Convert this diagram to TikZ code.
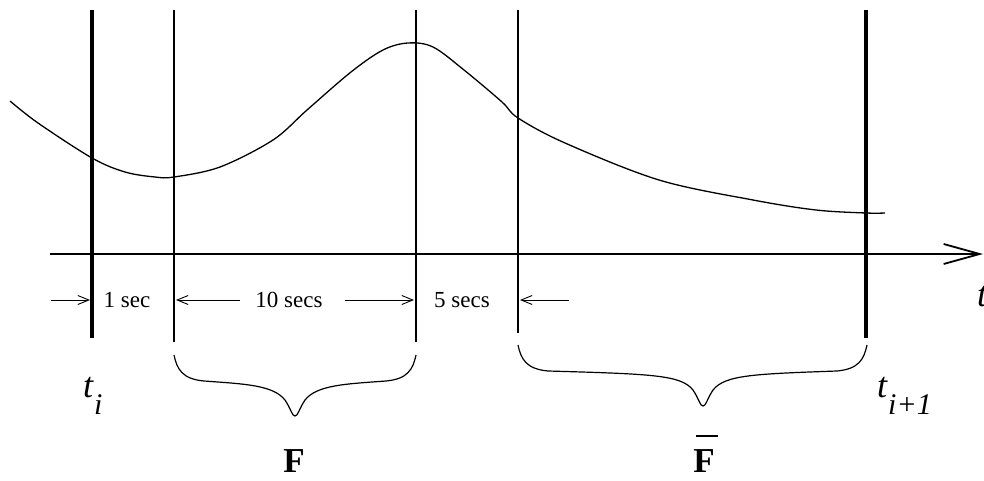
\documentclass[tikz,border=0pt]{standalone}
\usepackage{fontspec}
\setmainfont{Liberation Serif}
\usetikzlibrary{arrows.meta}
\tikzset{
  pics/cbrace/.style 2 args={code={
    \draw[line width=1.2pt] (-#1,0) .. controls ({-#1+3},14) and ({-#1+8},24) .. ({-#1+30},26)
      .. controls (-50,29) and (-22,30) .. (-10,45)
      .. controls (-4,54) and (-3,61) .. (0,61)
      .. controls (3,61) and (4,54) .. (10,45)
      .. controls (22,30) and (50,29) .. ({#2-30},26)
      .. controls ({#2-8},24) and ({#2-3},14) .. (#2,0);
  }}
}
\begin{document}
\begin{tikzpicture}[x=1pt,y=-1pt,
  thickbar/.style={line width=3.6pt},
  thinbar/.style={line width=1.1pt},
  curve/.style={line width=1.3pt},
  axisline/.style={line width=1.8pt,-{Straight Barb[length=36pt,width=20pt]}},
  dimarrow/.style={line width=0.9pt,-{Straight Barb[length=11pt,width=9pt]}},
  dimtext/.style={font=\fontsize{23}{23}\selectfont, inner sep=0pt, anchor=base},
  tlabel/.style={font=\fontsize{36}{36}\selectfont\itshape, inner sep=0pt, anchor=base west},
  sublabel/.style={font=\fontsize{30}{30}\selectfont\itshape, inner sep=0pt, anchor=base west},
  flabel/.style={font=\fontsize{35}{35}\selectfont\bfseries, inner sep=0pt, anchor=base}
]
\useasboundingbox (0,0) rectangle (984,481);

% vertical lines
\coordinate (v1t) at (92,10);  \coordinate (v1b) at (92,338);
\coordinate (v2t) at (174,10); \coordinate (v2b) at (174,342);
\coordinate (v3t) at (416,10); \coordinate (v3b) at (416,342);
\coordinate (v4t) at (518,10); \coordinate (v4b) at (518,333);
\coordinate (v5t) at (866,10); \coordinate (v5b) at (866,338);
\draw[thickbar] (v1t) -- (v1b);
\draw[thickbar] (v5t) -- (v5b);
\draw[thinbar] (v2t) -- (v2b);
\draw[thinbar] (v3t) -- (v3b);
\draw[thinbar] (v4t) -- (v4b);

% axis
\coordinate (ax0) at (50,254);
\coordinate (ax1) at (983,254);
\draw[axisline] (ax0) -- (ax1);
\node[tlabel] (tt) at (977,306) {t};

% curve
\draw[curve] plot[smooth, tension=0.55] coordinates {
  (10,101) (38,123) (92,158) (125,172) (155,177) (174,177) (220,167)
  (273,140) (307,110) (351,72) (383,50) (408,43) (433,47) (464,70)
  (502,102) (518,118) (565,143) (659,180) (753,200) (816,210) (866,213) (885,213)};

% dimension row
\coordinate (a1s) at (51,300);  \coordinate (a1e) at (90,300);
\coordinate (a2s) at (240,300); \coordinate (a2e) at (176,300);
\coordinate (a3s) at (345,300); \coordinate (a3e) at (414,300);
\coordinate (a4s) at (569,300); \coordinate (a4e) at (520,300);
\draw[dimarrow] (a1s) -- (a1e);
\draw[dimarrow] (a2s) -- (a2e);
\draw[dimarrow] (a3s) -- (a3e);
\draw[dimarrow] (a4s) -- (a4e);
\node[dimtext] (s1) at (127,307) {1 sec};
\node[dimtext] (s2) at (289,307) {10 secs};
\node[dimtext] (s3) at (462,307) {5 secs};

% braces
\pic at (295,355) {cbrace={121}{121}};
\pic at (703,345) {cbrace={185}{164}};

% time labels
\node[tlabel] (ti) at (83,397) {t};
\node[sublabel] (tisub) at (94,414) {i};
\node[tlabel] (tj) at (877,397) {t};
\node[sublabel] (tjsub) at (888,414) {i+1};

% F labels
\node[flabel] (F) at (294,472) {F};
\node[flabel] (Fbar) at (704,472) {F};
\coordinate (bl) at (696,436); \coordinate (br) at (718,436);
\draw[line width=2.2pt] (bl) -- (br);
\end{tikzpicture}
\end{document}
